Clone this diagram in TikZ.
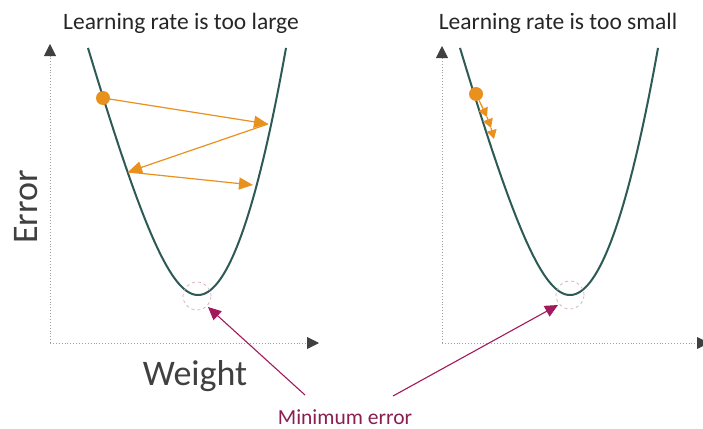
\documentclass[tikz,border=0pt]{standalone}
\usepackage{fontspec}
\setmainfont{Carlito}
\usetikzlibrary{arrows.meta}
\definecolor{curvecol}{HTML}{2E5A56}
\definecolor{orangecol}{HTML}{E8911E}
\definecolor{magcol}{HTML}{A3195B}
\definecolor{magtext}{HTML}{8C1D52}
\definecolor{circcol}{HTML}{D9A9B9}
\definecolor{axisdark}{HTML}{404040}
\definecolor{axisdot}{HTML}{A0A0A0}
\definecolor{labelcol}{HTML}{404040}
\tikzset{
  curveline/.style={draw=curvecol, line width=2pt},
  axisline/.style={draw=axisdot, dotted, line width=0.9pt, -{Triangle[length=12pt,width=12pt,color=axisdark,fill=axisdark]}},
  odot/.style={circle, fill=orangecol, inner sep=0pt, minimum size=14pt},
  oarrow/.style={draw=orangecol, line width=1.2pt, -{Triangle[length=14pt,width=12pt]}},
  osmall/.style={draw=orangecol, line width=1.2pt, -{Triangle[length=9pt,width=10pt]}},
  mincirc/.style={circle, draw=circcol, dashed, line width=0.7pt, inner sep=0pt, minimum size=28pt},
  marrow/.style={draw=magcol, line width=1.1pt, -{Triangle[length=13pt,width=12pt]}},
  titletext/.style={font=\fontsize{23.5}{28}\selectfont, text=black!85, anchor=base, inner sep=0pt},
  bigtext/.style={font=\fontsize{36}{42}\selectfont, text=labelcol, anchor=base, inner sep=0pt},
  mintext/.style={font=\fontsize{21.5}{26}\selectfont, text=magtext, anchor=base, inner sep=0pt}
}
\begin{document}
\begin{tikzpicture}[x=1pt,y=-1pt]
\useasboundingbox (0,0) rectangle (703,428);
\fill[white] (0,0) rectangle (703,428);

% titles
\node[titletext] (t1) at (181,30) {Learning rate is too large};
\node[titletext] (t2) at (558,30) {Learning rate is too small};

% axes
\coordinate (o1) at (50,343);
\coordinate (y1) at (50,44);
\coordinate (x1) at (319,343);
\coordinate (o2) at (442,343);
\coordinate (y2) at (442,46);
\coordinate (x2) at (709,343);
\draw[axisline] (o1) -- (y1);
\draw[axisline] (o1) -- (x1);
\draw[axisline] (o2) -- (y2);
\draw[axisline] (o2) -- (x2);

% curves
\foreach \vx in {198,570} {
  \draw[curveline] plot[domain=-110:0,samples=80] ({\vx+\x},{295-227*(sqrt(1+(\x/60)^2)-1)})
    -- plot[domain=0:88,samples=60] ({\vx+\x},{295-0.0319*\x*\x});
}

% minimum circles
\node[mincirc] (c1) at (197,296) {};
\node[mincirc] (c2) at (570,295) {};

% axis labels
\node[bigtext, rotate=90] (err) at (37,207) {Error};
\node[bigtext] (wt) at (195,385) {Weight};

% left: large steps
\coordinate (p1) at (268,124);
\coordinate (p2) at (128,172);
\coordinate (p3) at (253,185);
\draw[oarrow] (103,98) -- (p1);
\draw[oarrow] (p1) -- (p2);
\draw[oarrow] (p2) -- (p3);
\node[odot] (d1) at (103,98) {};

% right: small steps
\coordinate (q1) at (487,117);
\coordinate (q2) at (491,128);
\coordinate (q3) at (494,139);
\node[odot] (d2) at (476,94) {};
\draw[osmall] (d2) -- (q1);
\draw[osmall] (q1) -- (q2);
\draw[osmall] (q2) -- (q3);

% minimum error label and arrows
\node[mintext] (me) at (345,424) {Minimum error};
\coordinate (ms1) at (305,395);
\coordinate (ms2) at (393,396);
\coordinate (mt1) at (208,307);
\coordinate (mt2) at (558,305);
\draw[marrow] (ms1) -- (mt1);
\draw[marrow] (ms2) -- (mt2);
\end{tikzpicture}
\end{document}
